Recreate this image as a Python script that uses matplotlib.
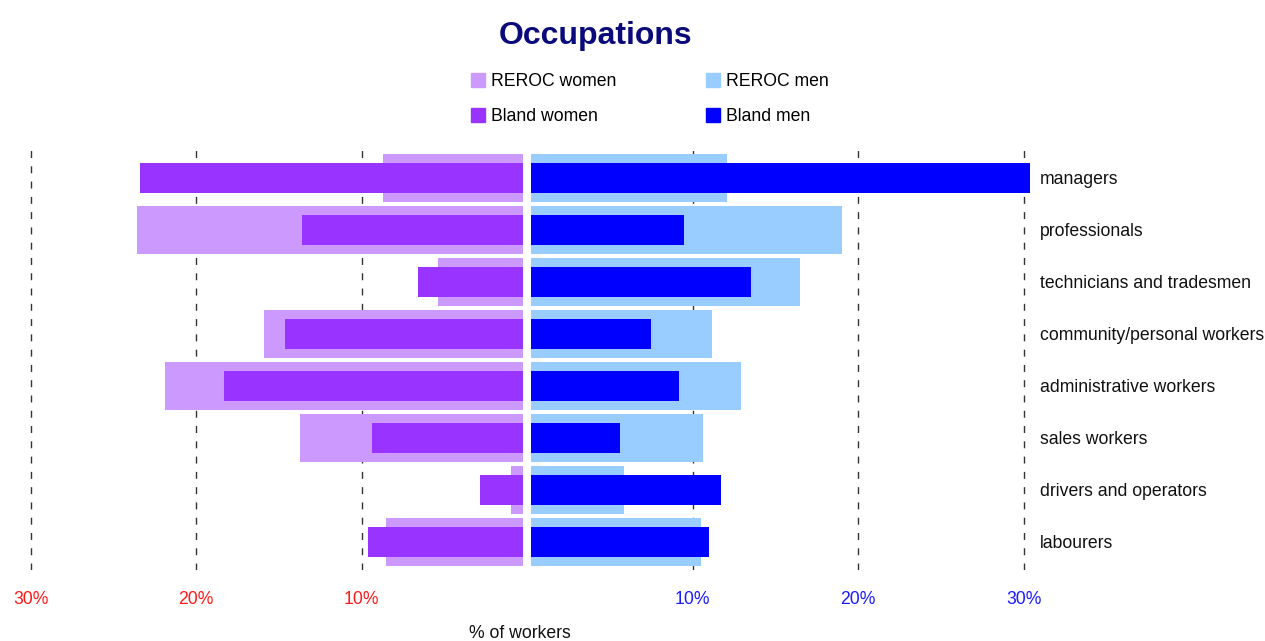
import matplotlib
matplotlib.use("Agg")
import matplotlib.pyplot as plt
from matplotlib.patches import Patch

# ---- data -------------------------------------------------------------
occupations = [
    "managers",
    "professionals",
    "technicians and tradesmen",
    "community/personal workers",
    "administrative workers",
    "sales workers",
    "drivers and operators",
    "labourers",
]
reroc_women = [8.7, 23.6, 5.4, 15.9, 21.9, 13.7, 1.0, 8.5]
bland_women = [23.4, 13.6, 6.6, 14.6, 18.3, 9.4, 2.85, 9.6]
reroc_men = [12.1, 19.0, 16.5, 11.2, 12.9, 10.6, 5.85, 10.5]
bland_men = [30.4, 9.5, 13.5, 7.5, 9.2, 5.6, 11.7, 11.0]

tick_values = [-30, -20, -10, 10, 20, 30]
tick_labels = ["30%", "20%", "10%", "10%", "20%", "30%"]

# ---- style ------------------------------------------------------------
c_reroc_w = "#cc99ff"
c_bland_w = "#9933ff"
c_reroc_m = "#99ccff"
c_bland_m = "#0000ff"

plt.rcParams["font.family"] = ["Liberation Sans", "DejaVu Sans"]
FS = 12.7

W, H = 1265, 641
fig = plt.figure(figsize=(W / 100, H / 100), dpi=100)

# axes placed in pixel terms
ax_l, ax_r, ax_t, ax_b = 20, 1035, 150, 570
ax = fig.add_axes([ax_l / W, 1 - ax_b / H, (ax_r - ax_l) / W, (ax_b - ax_t) / H])

zero_px, px_per_pct = 527.1, 16.55
ax.set_xlim((ax_l - zero_px) / px_per_pct, (ax_r - zero_px) / px_per_pct)
ax.set_ylim(7.538, -0.538)

y = list(range(len(occupations)))
wide_h, narrow_h = 0.92, 0.56

ax.barh(y, [-v for v in reroc_women], height=wide_h, color=c_reroc_w, zorder=2)
ax.barh(y, [-v for v in bland_women], height=narrow_h, color=c_bland_w, zorder=2.5)
ax.barh(y, reroc_men, height=wide_h, color=c_reroc_m, zorder=2)
ax.barh(y, bland_men, height=narrow_h, color=c_bland_m, zorder=2.5)

# white channel separating the two halves
ax.axvspan(-0.23, 0.235, color="white", zorder=3, lw=0)

# dashed reference lines
for v in tick_values:
    ax.axvline(v, color="#333333", lw=1, ls=(0, (5, 6)), zorder=1)

for s in ax.spines.values():
    s.set_visible(False)
ax.set_yticks([])
ax.set_xticks(tick_values)
ax.set_xticklabels(tick_labels, fontsize=FS)
ax.tick_params(axis="x", length=0, pad=15)
for lab, v in zip(ax.get_xticklabels(), tick_values):
    lab.set_color("#ff1a1a" if v < 0 else "#1a1aff")

# category labels on the right
lab_x = (1040 - ax_l) / (ax_r - ax_l)
for yi, name in zip(y, occupations):
    ax.text(lab_x, yi + 0.115, name, transform=ax.get_yaxis_transform(), ha="left",
            va="baseline", fontsize=FS, color="#111111", clip_on=False)

fig.text(520 / W, 1 - 638 / H, "% of workers", ha="center", va="baseline",
         fontsize=FS, color="#111111")

fig.text(596 / W, 1 - 36 / H, "Occupations", ha="center", va="center",
         fontsize=23, fontweight="bold", color="#0a0a7a")

handles = [Patch(color=c_reroc_w), Patch(color=c_bland_w),
           Patch(color=c_reroc_m), Patch(color=c_bland_m)]
labels = ["REROC women", "Bland women", "REROC men", "Bland men"]
fig.legend(handles, labels, ncol=2, frameon=False, fontsize=FS,
           loc="upper left", bbox_to_anchor=(471 / W, 1 - 73 / H),
           borderpad=0, borderaxespad=0, handlelength=0.8, handleheight=0.8,
           handletextpad=0.34, columnspacing=5.07, labelspacing=1.04)

fig.savefig("out.png", dpi=100, facecolor="white")
